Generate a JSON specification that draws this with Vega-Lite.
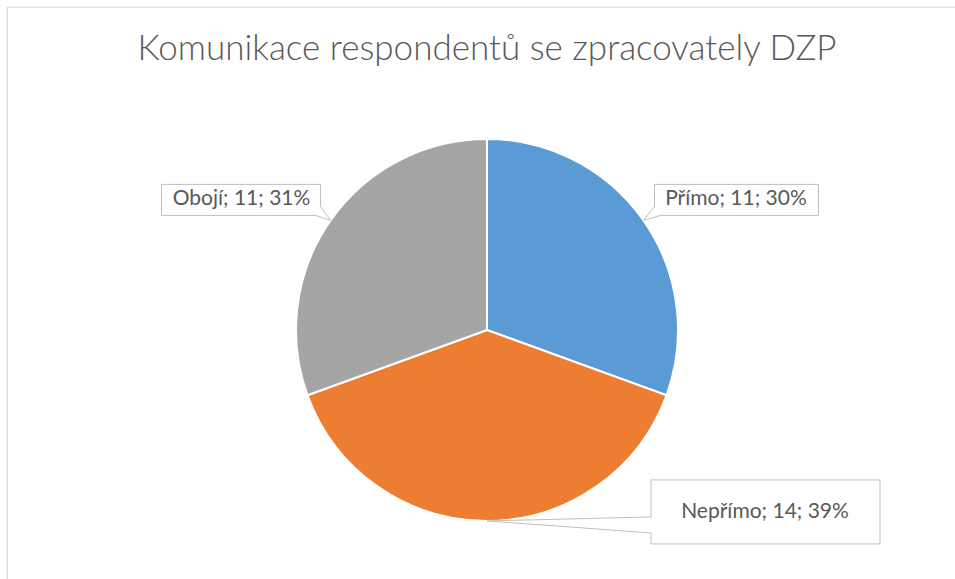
{
  "$schema": "https://vega.github.io/schema/vega-lite/v6.json",
  "width": 948,
  "height": 572,
  "autosize": {"type": "none"},
  "padding": {"left": 7, "top": 7, "right": 0, "bottom": 0},
  "background": "white",
  "title": {
    "text": "Komunikace respondentů se zpracovately DZP",
    "font": "Lato",
    "fontSize": 35,
    "fontWeight": 300,
    "color": "#595959",
    "anchor": "middle",
    "frame": "group",
    "offset": -88,
    "baseline": "alphabetic",
    "dx": 6
  },
  "config": {"view": {"stroke": "#D9D9D9", "strokeWidth": 1.3, "strokeDash": [948, 1520, 572]}},
  "data": {
    "values": [
      {"kategorie": "Přímo", "pocet": 11, "popisek": "Přímo; 11; 30%"},
      {"kategorie": "Nepřímo", "pocet": 14, "popisek": "Nepřímo; 14; 39%"},
      {"kategorie": "Obojí", "pocet": 11, "popisek": "Obojí; 11; 31%"}
    ]
  },
  "transform": [
    {"window": [{"op": "row_number", "as": "poradi"}]},
    {"joinaggregate": [{"op": "sum", "field": "pocet", "as": "celkem"}]},
    {"window": [{"op": "sum", "field": "pocet", "as": "kum"}], "sort": [{"field": "poradi"}], "frame": [null, 0]},
    {"calculate": "2*PI*(datum.kum - datum.pocet/2)/datum.celkem", "as": "uhel"},
    {"calculate": "sin(datum.uhel)", "as": "kx"},
    {"calculate": "cos(datum.uhel)", "as": "ky"}
  ],
  "layer": [
    {
      "mark": {"type": "arc", "outerRadius": 191, "stroke": "white", "strokeWidth": 2},
      "encoding": {
        "theta": {"field": "pocet", "type": "quantitative", "stack": true},
        "order": {"field": "poradi", "type": "quantitative"},
        "color": {
          "field": "kategorie",
          "type": "nominal",
          "scale": {"domain": ["Přímo", "Nepřímo", "Obojí"], "range": ["#5B9BD5", "#ED7D31", "#A5A5A5"]},
          "legend": null
        },
        "x": {"datum": 0, "type": "quantitative", "scale": {"domain": [-2.513, 2.45], "nice": false, "zero": false}, "axis": null},
        "y": {"datum": 0, "type": "quantitative", "scale": {"domain": [-1.304, 1.691], "nice": false, "zero": false}, "axis": null}
      }
    },
    {
      "transform": [{"filter": "datum.kategorie === 'Přímo'"}],
      "encoding": {
        "x": {"field": "kx", "type": "quantitative", "scale": {"domain": [-2.513, 2.45], "nice": false, "zero": false}, "axis": null},
        "y": {"field": "ky", "type": "quantitative", "scale": {"domain": [-1.304, 1.691], "nice": false, "zero": false}, "axis": null}
      },
      "layer": [
        {"mark": {"type": "point", "shape": "M17,-5 L0,0 L11,-14 V-36 H175 V-5 Z", "size": 4, "filled": true, "fill": "white", "stroke": "#BFBFBF", "strokeWidth": 1, "opacity": 1}},
        {"mark": {"type": "text", "font": "Lato", "fontSize": 21, "color": "#595959", "align": "center", "baseline": "middle", "dx": 92.5, "dy": -21}, "encoding": {"text": {"field": "popisek"}}}
      ]
    },
    {
      "transform": [{"filter": "datum.kategorie === 'Obojí'"}],
      "encoding": {
        "x": {"field": "kx", "type": "quantitative", "scale": {"domain": [-2.513, 2.45], "nice": false, "zero": false}, "axis": null},
        "y": {"field": "ky", "type": "quantitative", "scale": {"domain": [-1.304, 1.691], "nice": false, "zero": false}, "axis": null}
      },
      "layer": [
        {"mark": {"type": "point", "shape": "M-10,-14 L0,0 L-15,-5 H-169 V-36 H-10 Z", "size": 4, "filled": true, "fill": "white", "stroke": "#BFBFBF", "strokeWidth": 1, "opacity": 1}},
        {"mark": {"type": "text", "font": "Lato", "fontSize": 21, "color": "#595959", "align": "center", "baseline": "middle", "dx": -89, "dy": -21}, "encoding": {"text": {"field": "popisek"}}}
      ]
    },
    {
      "transform": [{"filter": "datum.kategorie === 'Nepřímo'"}],
      "encoding": {
        "x": {"field": "kx", "type": "quantitative", "scale": {"domain": [-2.513, 2.45], "nice": false, "zero": false}, "axis": null},
        "y": {"field": "ky", "type": "quantitative", "scale": {"domain": [-1.304, 1.691], "nice": false, "zero": false}, "axis": null}
      },
      "layer": [
        {"mark": {"type": "point", "shape": "M164,-4 L0,0 L164,12 V23 H393 V-41 H164 Z", "size": 4, "filled": true, "fill": "white", "stroke": "#BFBFBF", "strokeWidth": 1, "opacity": 1}},
        {"mark": {"type": "text", "font": "Lato", "fontSize": 21, "color": "#595959", "align": "center", "baseline": "middle", "dx": 278, "dy": -9}, "encoding": {"text": {"field": "popisek"}}}
      ]
    }
  ]
}
